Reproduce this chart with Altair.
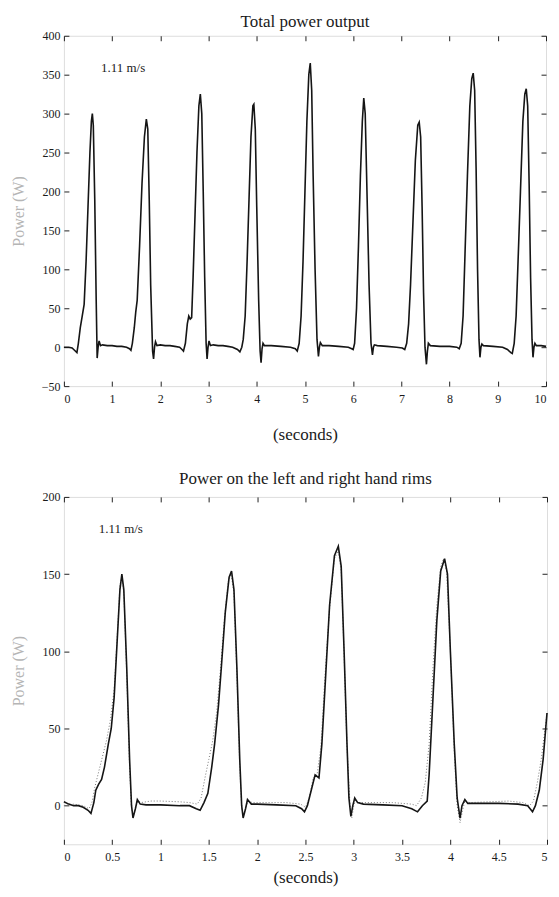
import altair as alt
import pandas as pd

FONT = "Liberation Serif"

# ---------------- Top panel: total power output (0-10 s) ----------------
top_t = [0.0, 0.1, 0.17, 0.22, 0.27, 0.3, 0.34, 0.38, 0.42, 0.46, 0.5, 0.54, 0.57, 0.59, 0.61, 0.64, 0.67, 0.69, 0.71, 0.73, 0.76, 0.8, 0.9, 1.0, 1.1, 1.2, 1.3, 1.36, 1.39,
         1.42, 1.46, 1.49, 1.52, 1.57, 1.62, 1.67, 1.71, 1.74, 1.77, 1.8, 1.84, 1.86, 1.88, 1.9, 1.93, 2.0, 2.1, 2.2, 2.3, 2.4, 2.45, 2.48,
         2.52, 2.56, 2.59, 2.62, 2.65, 2.68, 2.72, 2.76, 2.8, 2.83, 2.86, 2.89, 2.92, 2.95, 2.97, 2.99, 3.01, 3.04, 3.1, 3.2, 3.3, 3.4, 3.5, 3.6, 3.65,
         3.69, 3.72, 3.76, 3.8, 3.84, 3.88, 3.92, 3.94, 3.97, 4.0, 4.04, 4.07, 4.09, 4.11, 4.13, 4.16, 4.2, 4.3, 4.5, 4.7, 4.8, 4.84,
         4.88, 4.92, 4.96, 5.0, 5.04, 5.08, 5.11, 5.14, 5.17, 5.21, 5.25, 5.28, 5.30, 5.32, 5.36, 5.5, 5.7, 5.9, 5.97, 6.0,
         6.03, 6.07, 6.11, 6.15, 6.19, 6.22, 6.25, 6.29, 6.33, 6.37, 6.40, 6.42, 6.44, 6.5, 6.7, 6.9, 7.02, 7.07,
         7.11, 7.15, 7.19, 7.24, 7.29, 7.34, 7.37, 7.4, 7.43, 7.46, 7.49, 7.52, 7.54, 7.56, 7.6, 7.8, 8.0, 8.15, 8.2,
         8.24, 8.28, 8.32, 8.37, 8.42, 8.46, 8.49, 8.52, 8.55, 8.58, 8.61, 8.63, 8.65, 8.67, 8.7, 8.9, 9.1, 9.2, 9.27, 9.30,
         9.34, 9.38, 9.42, 9.47, 9.52, 9.56, 9.59, 9.62, 9.65, 9.68, 9.71, 9.73, 9.75, 9.77, 9.8, 9.9, 10.0]
top_p = [0, 0, -1, -4, -7, 5, 25, 40, 55, 110, 180, 250, 290, 300, 285, 190, 60, -14, 0, 8, 2, 3, 2, 2, 1, 1, 0, -2, -4,
         5, 25, 45, 60, 130, 210, 270, 293, 280, 190, 80, -5, -15, 0, 7, 2, 3, 2, 2, 1, 0, -3, -5,
         5, 30, 40, 36, 38, 90, 170, 250, 310, 325, 300, 200, 90, 5, -15, 0, 8, 2, 3, 2, 2, 1, 0, -3, -6,
         0, 10, 40, 110, 190, 270, 310, 312, 280, 180, 60, -5, -20, -2, 5, 2, 2, 2, 1, 0, -2, -5,
         5, 40, 110, 200, 290, 350, 365, 330, 220, 100, 10, -12, 0, 6, 2, 2, 1, 0, -2, -3,
         5, 50, 130, 220, 290, 320, 300, 190, 80, 5, -10, 0, 3, 2, 1, 0, -1, -3,
         5, 30, 80, 160, 240, 285, 289, 270, 180, 70, 0, -22, -5, 5, 2, 1, 1, 0, -2,
         5, 40, 120, 220, 310, 345, 352, 330, 230, 100, 10, -13, 0, 4, 2, 1, 0, -3, -7, -8,
         5, 40, 110, 200, 290, 325, 332, 310, 210, 90, 10, -13, 0, 5, 2, 2, 1]

top_x_ticks = [0, 1, 2, 3, 4, 5, 6, 7, 8, 9, 10]
top_y_ticks = [-50, 0, 50, 100, 150, 200, 250, 300, 350, 400]

# ---------------- Bottom panel: left / right hand rims (0-5 s) ----------------
left_t = [0.0, 0.05, 0.1, 0.15, 0.2, 0.25, 0.28, 0.31, 0.33, 0.36, 0.39, 0.42, 0.46, 0.49, 0.52, 0.55, 0.58, 0.6, 0.62, 0.65, 0.68, 0.7, 0.715, 0.74, 0.76, 0.79, 0.85, 1.0, 1.2, 1.3, 1.37, 1.41,
          1.45, 1.49, 1.53, 1.56, 1.6, 1.63, 1.67, 1.71, 1.735, 1.76, 1.79, 1.82, 1.84, 1.855, 1.88, 1.9, 1.94, 2.0, 2.2, 2.4, 2.46, 2.49,
          2.52, 2.56, 2.6, 2.64, 2.67, 2.71, 2.75, 2.8, 2.84, 2.87, 2.9, 2.93, 2.95, 2.97, 2.99, 3.01, 3.04, 3.1, 3.3, 3.5, 3.6, 3.66,
          3.71, 3.76, 3.78, 3.82, 3.86, 3.9, 3.94, 3.97, 4.0, 4.04, 4.07, 4.1, 4.12, 4.15, 4.18, 4.3, 4.5, 4.7, 4.8, 4.85, 4.88, 4.92, 4.96, 5.0]
left_p = [2.5, 1, 0, 0, -1, -3, -5, 2, 10, 14, 17, 25, 40, 50, 70, 105, 140, 150, 140, 90, 30, 0, -8, -2, 4, 1, 0.5, 0.5, 0, 0, -2, -3,
          2, 8, 25, 40, 65, 90, 125, 148, 152, 140, 90, 30, 0, -8, -2, 4, 1, 1, 0.5, 0, -2, -4,
          0, 10, 20, 18, 40, 85, 130, 162, 168, 155, 100, 40, 5, -7, 0, 5, 2, 1, 0.5, 0, -2, -4,
          0, 3, 20, 70, 120, 152, 160, 150, 100, 40, 5, -8, 0, 4, 1.5, 1.5, 1.5, 1, 0, -4, 0, 10, 30, 60]

right_t = [0.0, 0.1, 0.2, 0.26, 0.29, 0.32, 0.36, 0.4, 0.44, 0.48, 0.52, 0.55, 0.58, 0.6, 0.62, 0.65, 0.68, 0.7, 0.72, 0.75, 0.77, 0.8, 0.9, 1.0, 1.2, 1.3, 1.38,
           1.42, 1.46, 1.5, 1.54, 1.58, 1.62, 1.66, 1.7, 1.73, 1.76, 1.79, 1.82, 1.84, 1.86, 1.89, 1.91, 1.95, 2.1, 2.3, 2.45, 2.5,
           2.54, 2.58, 2.62, 2.66, 2.7, 2.75, 2.8, 2.84, 2.87, 2.9, 2.93, 2.96, 2.98, 3.0, 3.02, 3.05, 3.2, 3.4, 3.6, 3.65,
           3.7, 3.74, 3.78, 3.82, 3.86, 3.9, 3.93, 3.96, 4.0, 4.04, 4.07, 4.1, 4.13, 4.15, 4.2, 4.4, 4.6, 4.75, 4.82, 4.86, 4.9, 4.94, 4.97, 5.0]
right_p = [0, 1, 0, -2, 2, 12, 22, 32, 42, 55, 75, 108, 143, 148, 138, 85, 25, -2, -6, 0, 3, 2, 3, 3, 2.5, 2, 1,
           5, 18, 30, 42, 60, 88, 120, 145, 150, 138, 85, 25, -2, -6, 0, 3, 2, 2, 2, 1, -1,
           5, 18, 20, 38, 82, 128, 160, 165, 152, 98, 38, 2, -8, 0, 4, 2, 2, 2, 1, 0,
           5, 15, 40, 90, 130, 155, 160, 152, 100, 35, 0, -11, -2, 3, 2, 2.5, 3, 2, 0, 3, 15, 30, 45, 60]

bot_x_ticks = [0, 0.5, 1, 1.5, 2, 2.5, 3, 3.5, 4, 4.5, 5]
bot_y_ticks = [0, 50, 100, 150, 200]

speed_label = ["1.11 m/s"]

# ---------------- helpers ----------------
TXT = "#1a1a1a"
FMT = ".1~f"


def x_axis(values, title_pad):
    return alt.Axis(orient="bottom", values=values, format=FMT, offset=-5, domain=False,
                    tickSize=5, tickColor="#222", labelPadding=7, labelFont=FONT,
                    labelFontSize=12, labelColor=TXT, title="(seconds)", titleFont=FONT,
                    titleFontSize=17, titleFontWeight="normal", titleColor=TXT,
                    titlePadding=title_pad, grid=False, minExtent=0)


def y_axis(values):
    return alt.Axis(orient="left", values=values, format=FMT, offset=-5, domain=False,
                    tickSize=5, tickColor="#222", labelPadding=4, labelFont=FONT,
                    labelFontSize=12, labelColor=TXT, title="Power (W)", titleFont=FONT,
                    titleFontSize=16, titleFontWeight="normal", titleColor="#b5b5b5",
                    titlePadding=15, grid=False, minExtent=0)


def mirror_x(values):
    return alt.Axis(orient="top", values=values, labels=False, title=None, offset=-5,
                    domain=False, tickSize=5, tickColor="#222", grid=False,
                    minExtent=0, maxExtent=0)


def mirror_y(values):
    return alt.Axis(orient="right", values=values, labels=False, title=None, offset=-5,
                    domain=False, tickSize=5, tickColor="#222", grid=False,
                    minExtent=0, maxExtent=0)


# ---------------- top chart ----------------
df_top = pd.DataFrame({"t": top_t, "p": top_p})
xs_top = alt.Scale(domain=[0, 10], nice=False, zero=False)
ys_top = alt.Scale(domain=[-50, 400], nice=False, zero=False)

top_line = alt.Chart(df_top).mark_line(color="#151515", strokeWidth=1.6).encode(
    x=alt.X("t:Q", scale=xs_top, axis=x_axis(top_x_ticks, 22)),
    y=alt.Y("p:Q", scale=ys_top, axis=y_axis(top_y_ticks)),
)
top_mirror = alt.Chart(df_top).mark_line(opacity=0).encode(
    x=alt.X("t:Q", scale=xs_top, axis=mirror_x(top_x_ticks)),
    y=alt.Y("p:Q", scale=ys_top, axis=mirror_y(top_y_ticks)),
)
top_text = alt.Chart(pd.DataFrame({"t": [0.77], "p": [359], "label": speed_label})).mark_text(
    align="left", baseline="middle", font=FONT, fontSize=13, color=TXT
).encode(
    x=alt.X("t:Q", scale=xs_top, axis=None),
    y=alt.Y("p:Q", scale=ys_top, axis=None),
    text="label:N",
)

top_chart = alt.layer(top_line, top_mirror, top_text).resolve_scale(
    x="independent", y="independent"
).resolve_axis(x="independent", y="independent").properties(
    width=483, height=351,
    title=alt.TitleParams("Total power output", font=FONT, fontSize=17, fontWeight="normal",
                          color=TXT, offset=-1, anchor="middle"),
)

# ---------------- bottom chart ----------------
df_left = pd.DataFrame({"t": left_t, "p": left_p})
df_right = pd.DataFrame({"t": right_t, "p": right_p})
xs_bot = alt.Scale(domain=[0, 5], nice=False, zero=False)
ys_bot = alt.Scale(domain=[-25, 200], nice=False, zero=False)

bot_right = alt.Chart(df_right).mark_line(color="#777777", strokeWidth=1, strokeDash=[1, 2]).encode(
    x=alt.X("t:Q", scale=xs_bot, axis=x_axis(bot_x_ticks, 7)),
    y=alt.Y("p:Q", scale=ys_bot, axis=y_axis(bot_y_ticks)),
)
bot_left = alt.Chart(df_left).mark_line(color="#151515", strokeWidth=1.6).encode(
    x=alt.X("t:Q", scale=xs_bot, axis=mirror_x(bot_x_ticks)),
    y=alt.Y("p:Q", scale=ys_bot, axis=mirror_y(bot_y_ticks)),
)
bot_text = alt.Chart(pd.DataFrame({"t": [0.36], "p": [179], "label": speed_label})).mark_text(
    align="left", baseline="middle", font=FONT, fontSize=13, color=TXT
).encode(
    x=alt.X("t:Q", scale=xs_bot, axis=None),
    y=alt.Y("p:Q", scale=ys_bot, axis=None),
    text="label:N",
)

bot_chart = alt.layer(bot_right, bot_left, bot_text).resolve_scale(
    x="independent", y="independent"
).resolve_axis(x="independent", y="independent").properties(
    width=484, height=348,
    title=alt.TitleParams("Power on the left and right hand rims", font=FONT, fontSize=17,
                          fontWeight="normal", color=TXT, offset=3, anchor="middle"),
)

chart = alt.vconcat(top_chart, bot_chart, spacing=26).properties(
    padding={"left": 1, "top": 3, "right": 0, "bottom": 0}
).configure_view(stroke="#222", strokeWidth=1).configure(background="white")

chart.save("out.html", embed_options={"renderer": "svg", "actions": False})
